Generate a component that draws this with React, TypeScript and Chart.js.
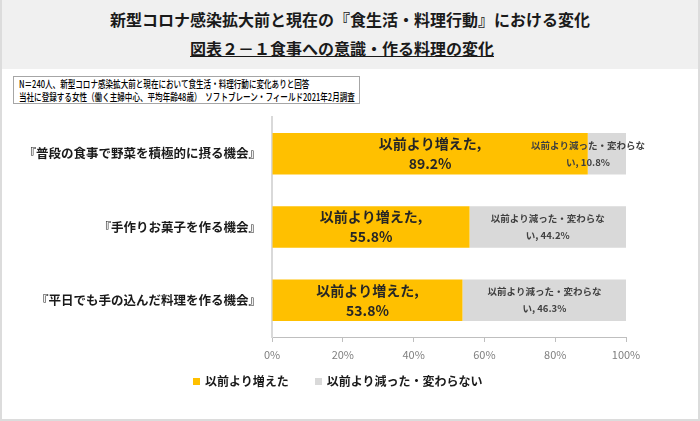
import React, { useEffect, useRef } from "react";
import { Chart, registerables } from "chart.js";

Chart.register(...registerables);

const titleText = "新型コロナ感染拡大前と現在の『食生活・料理行動』における変化";
const subtitleText = "図表２－１食事への意識・作る料理の変化";
const noteLines = [
  "N＝240人、新型コロナ感染拡大前と現在において食生活・料理行動に変化ありと回答",
  "当社に登録する女性（働く主婦中心、平均年齢48歳）　ソフトブレーン・フィールド2021年2月調査",
];
const categories = [
  "『普段の食事で野菜を積極的に摂る機会』",
  "『手作りお菓子を作る機会』",
  "『平日でも手の込んだ料理を作る機会』",
];
const seriesNames = ["以前より増えた", "以前より減った・変わらない"];
const increased = [89.2, 55.8, 53.8];
const decreased = [10.8, 44.2, 46.3];
const xTickValues = [0, 20, 40, 60, 80, 100];
const seriesColors = ["#FFC000", "#D9D9D9"];

const FONT = "'Noto Sans CJK JP', 'Noto Sans', sans-serif";

const segLabels = {
  id: "segLabels",
  afterDatasetsDraw(chart: any) {
    const ctx = chart.ctx;
    chart.data.datasets.forEach((ds: any, di: number) => {
      const meta = chart.getDatasetMeta(di);
      meta.data.forEach((el: any, i: number) => {
        const v = ds.data[i] as number;
        const p = el.getProps(["x", "y", "base"], true);
        let cx = (p.x + p.base) / 2;
        let lines: string[];
        let off: number;
        ctx.save();
        if (di === 0) {
          ctx.font = `bold 14px ${FONT}`;
          ctx.fillStyle = "#262626";
          lines = [seriesNames[0] + ",", v.toFixed(1) + "%"];
          off = 10;
        } else {
          ctx.font = `bold 9.5px ${FONT}`;
          ctx.fillStyle = "#404040";
          const full = seriesNames[1];
          lines = [full.slice(0, 12), full.slice(12) + ", " + v.toFixed(1) + "%"];
          off = 8.5;
        }
        const w = Math.max(...lines.map((l) => ctx.measureText(l).width));
        cx = Math.min(cx, chart.chartArea.right + 19 - w / 2);
        ctx.textAlign = "center";
        ctx.textBaseline = "middle";
        ctx.fillText(lines[0], cx, p.y - off);
        ctx.fillText(lines[1], cx, p.y + off);
        ctx.restore();
      });
    });
  },
};

function ChartBox() {
  const ref = useRef<HTMLCanvasElement>(null);
  useEffect(() => {
    if (!ref.current) return;
    Chart.defaults.font.family = FONT;
    const chart = new Chart(ref.current, {
      type: "bar",
      data: {
        labels: categories,
        datasets: [
          {
            label: seriesNames[0],
            data: increased,
            backgroundColor: seriesColors[0],
            barPercentage: 0.565,
            categoryPercentage: 1,
          },
          {
            label: seriesNames[1],
            data: decreased,
            backgroundColor: seriesColors[1],
            barPercentage: 0.565,
            categoryPercentage: 1,
          },
        ],
      },
      options: {
        indexAxis: "y",
        responsive: false,
        maintainAspectRatio: false,
        animation: false,
        layout: { padding: { left: 0, right: 74, top: 12, bottom: 54 } },
        plugins: { legend: { display: false }, tooltip: { enabled: false } },
        scales: {
          x: {
            stacked: true,
            min: 0,
            max: 100,
            afterBuildTicks: (s: any) => {
              s.ticks = xTickValues.map((v) => ({ value: v }));
            },
            afterFit: (s: any) => {
              s.height = 30;
            },
            ticks: {
              callback: (v: any) => v + "%",
              color: "#7f7f7f",
              font: { size: 11 },
              padding: 6,
            },
            grid: {
              display: true,
              drawOnChartArea: false,
              drawTicks: true,
              tickLength: 5,
              color: "#bfbfbf",
            },
            border: { display: true, color: "#bfbfbf", width: 1 },
          },
          y: {
            stacked: true,
            afterFit: (s: any) => {
              s.width = 272;
            },
            ticks: {
              color: "#1a1a1a",
              font: { size: 12.5, weight: "bold" },
              padding: 3,
            },
            grid: { display: false },
            border: { display: true, color: "#d9d9d9", width: 2 },
          },
        },
      },
      plugins: [segLabels],
    } as any);
    return () => chart.destroy();
  }, []);
  return (
    <canvas
      ref={ref}
      width={700}
      height={316}
      style={{ position: "absolute", left: 0, top: 105, width: 700, height: 316 }}
    />
  );
}

export default function App() {
  return (
    <div
      style={{
        position: "fixed",
        left: 0,
        top: 0,
        width: 700,
        height: 421,
        background: "#ffffff",
        overflow: "hidden",
        fontFamily: FONT,
        color: "#1a1a1a",
      }}
    >
      <div style={{ position: "absolute", left: 0, top: 0, width: 700, height: 69, background: "#f0f0f0" }} />
      <div
        style={{
          position: "absolute",
          left: 0,
          top: 7,
          width: 700,
          textAlign: "center",
          fontSize: 16,
          fontWeight: "bold",
          lineHeight: "24px",
          whiteSpace: "nowrap",
        }}
      >
        {titleText}
      </div>
      <div
        style={{
          position: "absolute",
          left: 190,
          top: 36,
          fontSize: 16,
          fontWeight: "bold",
          lineHeight: "24px",
          textDecoration: "underline",
          whiteSpace: "nowrap",
        }}
      >
        {subtitleText}
      </div>
      <div
        style={{
          position: "absolute",
          left: 13,
          top: 76,
          width: 347,
          height: 28,
          boxSizing: "border-box",
          border: "1px solid #a6a6a6",
          background: "#fff",
          overflow: "hidden",
        }}
      >
        {noteLines.map((t, i) => (
          <div
            key={i}
            style={{
              position: "absolute",
              left: 5,
              top: 0 + i * 13,
              fontSize: 10.5,
              fontWeight: 500,
              lineHeight: "13px",
              whiteSpace: "nowrap",
              transform: "scaleX(0.72)",
              transformOrigin: "left center",
              color: "#000",
            }}
          >
            {t}
          </div>
        ))}
      </div>
      <ChartBox />
      <div
        style={{
          position: "absolute",
          left: 193,
          top: 374,
          display: "flex",
          alignItems: "center",
          fontSize: 12,
          fontWeight: "bold",
          lineHeight: "14px",
          whiteSpace: "nowrap",
          color: "#1a1a1a",
        }}
      >
        {seriesNames.map((n, i) => (
          <div key={i} style={{ display: "flex", alignItems: "center", marginRight: i === 0 ? 26 : 0 }}>
            <span style={{ display: "inline-block", width: 7, height: 7, background: seriesColors[i], marginRight: 5 }} />
            <span>{n}</span>
          </div>
        ))}
      </div>
      <div
        style={{
          position: "absolute",
          left: 0,
          top: 0,
          width: 700,
          height: 421,
          boxSizing: "border-box",
          borderLeft: "2px solid #dcdcdc",
          borderRight: "2px solid #dcdcdc",
          borderBottom: "2px solid #dcdcdc",
          pointerEvents: "none",
        }}
      />
    </div>
  );
}
